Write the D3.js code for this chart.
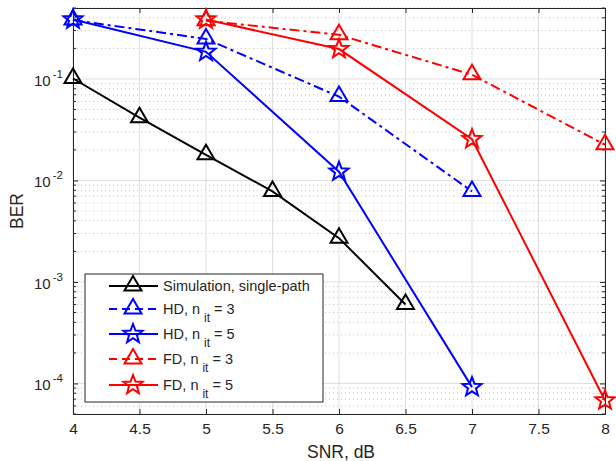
<!DOCTYPE html>
<meta charset="utf-8">
<script src="https://d3js.org/d3.v7.min.js"></script>
<style>
body { margin: 0; background: #fff; }
text { font-family: "Liberation Sans", Arial, sans-serif; fill: #262626; }
</style>
<div id="chart"></div>
<script>

// data
var snr = [4, 4.5, 5, 5.5, 6, 6.5, 7, 7.5, 8];
var simX = [4, 4.5, 5, 5.5, 6, 6.5];
var simBer = [0.101, 0.0415, 0.0179, 0.0078, 0.0027, 0.0006];
var hd3X = [4, 5, 6, 7];
var hd3Ber = [0.38, 0.248, 0.067, 0.0078];
var hd5X = [4, 5, 6, 7];
var hd5Ber = [0.385, 0.185, 0.0122, 0.000092];
var fd3X = [5, 6, 7, 8];
var fd3Ber = [0.375, 0.272, 0.11, 0.0225];
var fd5X = [5, 6, 7, 8];
var fd5Ber = [0.385, 0.197, 0.0255, 0.000068];
var decades = [-4, -3, -2, -1];

var series = [
  {name: "Simulation, single-path", xs: simX, ys: simBer, color: "#000000", dash: null, marker: "tri"},
  {name: "HD, n", sub: "it", tail: " = 3", xs: hd3X, ys: hd3Ber, color: "#0000ff", dash: "10,4,3,4", marker: "tri"},
  {name: "HD, n", sub: "it", tail: " = 5", xs: hd5X, ys: hd5Ber, color: "#0000ff", dash: null, marker: "star"},
  {name: "FD, n", sub: "it", tail: " = 3", xs: fd3X, ys: fd3Ber, color: "#ff0000", dash: "10,4,3,4", marker: "tri"},
  {name: "FD, n", sub: "it", tail: " = 5", xs: fd5X, ys: fd5Ber, color: "#ff0000", dash: null, marker: "star"}
];

var W = 616, H = 461;
var pl = 73, pr = 605, pt = 8, pb = 414;

var svg = d3.select("#chart").append("svg")
  .attr("width", W).attr("height", H);

var x = d3.scaleLinear().domain([4, 8]).range([pl, pr]);
var y = d3.scaleLog().domain([5e-5, 0.5]).range([pb, pt]);

// minor values for the log axis
var minors = [];
for (var k = -5; k <= -1; k++) {
  for (var m = 2; m <= 9; m++) {
    var v = m * Math.pow(10, k);
    if (v >= 5e-5 && v <= 0.5) minors.push(v);
  }
}

var grid = svg.append("g");
// minor dotted grid
grid.selectAll(".mg").data(minors).enter().append("line")
  .attr("x1", pl).attr("x2", pr)
  .attr("y1", function(d) { return y(d); }).attr("y2", function(d) { return y(d); })
  .attr("stroke", "#c4c4c4").attr("stroke-width", 1).attr("stroke-dasharray", "1,3");
// major grid
grid.selectAll(".vg").data(snr).enter().append("line")
  .attr("x1", function(d) { return x(d); }).attr("x2", function(d) { return x(d); })
  .attr("y1", pt).attr("y2", pb)
  .attr("stroke", "#dfdfdf").attr("stroke-width", 1);
grid.selectAll(".hg").data(decades).enter().append("line")
  .attr("x1", pl).attr("x2", pr)
  .attr("y1", function(d) { return y(Math.pow(10, d)); }).attr("y2", function(d) { return y(Math.pow(10, d)); })
  .attr("stroke", "#dfdfdf").attr("stroke-width", 1);

// axes
var xAxis = d3.axisBottom(x).tickValues(snr).tickSize(-5).tickPadding(14)
  .tickFormat(function(d) { return d; });
var gx = svg.append("g").attr("transform", "translate(0," + pb + ")").call(xAxis);
gx.select(".domain").attr("stroke", "#262626");
gx.selectAll(".tick line").attr("stroke", "#262626");
gx.selectAll(".tick text").attr("font-size", 15.5).attr("fill", "#262626")
  .attr("font-family", "Liberation Sans, Arial, sans-serif")
  .attr("dy", null).attr("y", 20);

var gxt = svg.append("g").attr("transform", "translate(0," + pt + ")")
  .call(d3.axisTop(x).tickValues(snr).tickSize(-5).tickFormat(""));
gxt.select(".domain").attr("stroke", "#262626");
gxt.selectAll(".tick line").attr("stroke", "#262626");

function yAxisGroup(axisFn, tx, dir) {
  var g = svg.append("g").attr("transform", "translate(" + tx + ",0)");
  g.call(axisFn(y).tickValues(decades.map(function(d) { return Math.pow(10, d); })).tickSize(-5).tickFormat(""));
  g.selectAll(".mt").data(minors).enter().append("line").attr("class", "mt")
    .attr("x1", 0).attr("x2", 3 * dir)
    .attr("y1", function(d) { return y(d); }).attr("y2", function(d) { return y(d); })
    .attr("stroke", "#262626");
  g.select(".domain").attr("stroke", "#262626");
  g.selectAll(".tick line").attr("stroke", "#262626");
  return g;
}
yAxisGroup(d3.axisLeft, pl, 1);
yAxisGroup(d3.axisRight, pr, -1);

// y tick labels 10^k
var yl = svg.append("g").selectAll("text").data(decades).enter().append("text")
  .attr("x", 34).attr("y", function(d) { return y(Math.pow(10, d)) + 7; })
  .attr("font-size", 15);
yl.append("tspan").text("10");
yl.append("tspan").attr("dx", 2).attr("dy", -8).attr("font-size", 11.5).text(function(d) { return "-" + (-d); });

svg.append("text").attr("x", (pl + pr) / 2 + 2).attr("y", 458)
  .attr("text-anchor", "middle").attr("font-size", 17.5).text("SNR, dB");
svg.append("text").attr("transform", "translate(23," + (pt + pb) / 2 + ") rotate(-90)")
  .attr("text-anchor", "middle").attr("font-size", 17.5).text("BER");

// markers
function triPath() {
  return "M0,-10L8.5,4.5L-8.5,4.5Z";
}
function starPath(r) {
  var pts = [];
  for (var i = 0; i < 10; i++) {
    var a = -Math.PI / 2 + i * Math.PI / 5;
    var rr = i % 2 === 0 ? r : r * 0.42;
    pts.push((rr * Math.cos(a)).toFixed(2) + "," + (rr * Math.sin(a)).toFixed(2));
  }
  return "M" + pts.join("L") + "Z";
}
function drawMarker(g, kind, cx, cy, color) {
  g.append("path")
    .attr("d", kind === "tri" ? triPath() : starPath(10))
    .attr("transform", "translate(" + cx + "," + cy + ")")
    .attr("fill", "none").attr("stroke", color).attr("stroke-width", 2)
    .attr("stroke-linejoin", "miter");
}

var line = d3.line().x(function(d) { return x(d[0]); }).y(function(d) { return y(d[1]); });
var plot = svg.append("g");
series.forEach(function(s) {
  var pts = s.xs.map(function(v, i) { return [v, s.ys[i]]; });
  plot.append("path").datum(pts).attr("d", line)
    .attr("fill", "none").attr("stroke", s.color).attr("stroke-width", 2)
    .attr("stroke-dasharray", s.dash);
  pts.forEach(function(p) { drawMarker(plot, s.marker, x(p[0]), y(p[1]), s.color); });
});

// legend
var lg = svg.append("g");
lg.append("rect").attr("x", 85).attr("y", 274).attr("width", 238).attr("height", 128)
  .attr("fill", "#fff").attr("stroke", "#262626").attr("stroke-width", 1);
var rowY = [286, 309, 334, 359, 385];
series.forEach(function(s, i) {
  var yy = rowY[i];
  lg.append("line").attr("x1", 109).attr("x2", 158).attr("y1", yy).attr("y2", yy)
    .attr("stroke", s.color).attr("stroke-width", 2).attr("stroke-dasharray", s.dash ? "8,5" : null);
  drawMarker(lg, s.marker, 133, yy, s.color);
  var t = lg.append("text").attr("x", 163).attr("y", yy + 5).attr("font-size", 14.5);
  t.append("tspan").text(s.name);
  if (s.sub) {
    t.append("tspan").attr("dx", 4).attr("dy", 8).attr("font-size", 12).text(s.sub);
    t.append("tspan").attr("dy", -8).attr("font-size", 14.5).text(s.tail);
  }
});

</script>
